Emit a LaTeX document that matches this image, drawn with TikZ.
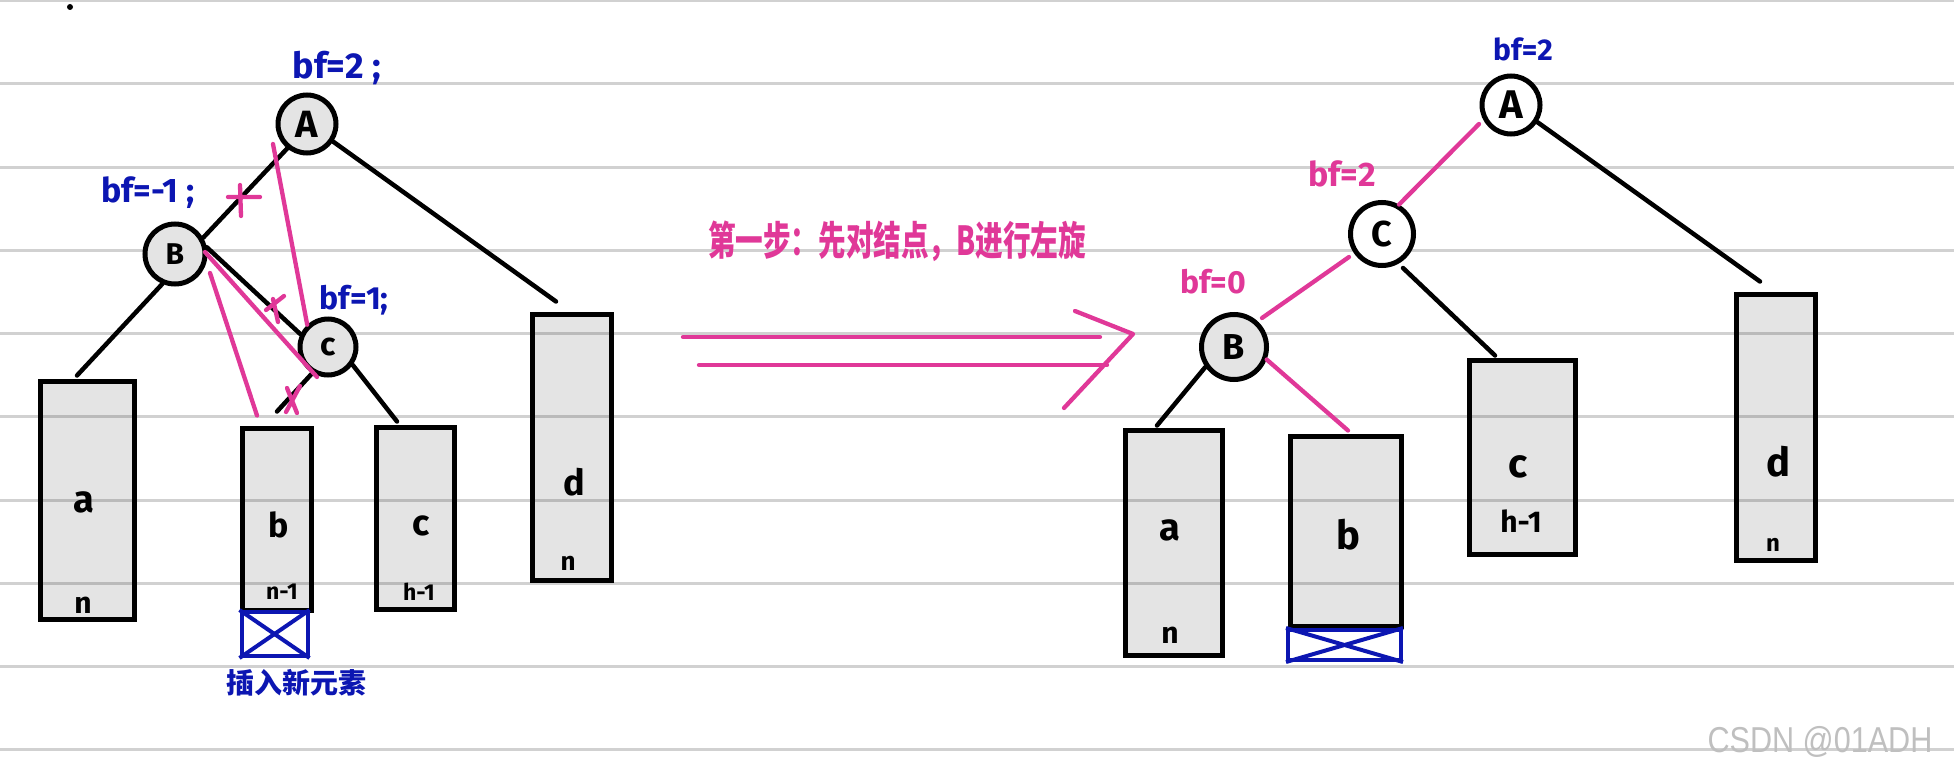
\documentclass[tikz,border=0pt]{standalone}
\usepackage{fontspec}
\setmainfont{Fira Sans}
\newfontfamily\cjk{Noto Sans CJK SC}
\newfontfamily\wmfont{Liberation Sans}
\usetikzlibrary{calc}
\definecolor{inkblue}{RGB}{12,22,178}
\definecolor{inkpink}{RGB}{224,56,152}
\definecolor{boxgray}{RGB}{228,228,228}
\tikzset{
  ruling/.style={draw=black, draw opacity=0.18, line width=3pt},
  bxn/.style={rectangle, draw=black, fill=boxgray, line width=5pt, inner sep=0pt},
  newbox/.style={rectangle, draw=inkblue, line width=4pt, inner sep=0pt, fill=white},
  circn/.style={circle, draw=black, line width=5pt, inner sep=0pt},
  blk/.style={draw=black, line width=4.5pt, line cap=round},
  pk/.style={draw=inkpink, line width=4.3pt, line cap=round},
  xmark/.style={draw=inkblue, line width=4pt},
  fs/.style={inner sep=0pt, font={\bfseries\fontsize{#1pt}{#1pt}\selectfont}},
}
\begin{document}
\begin{tikzpicture}[x=1pt,y=-1pt]
\useasboundingbox (0,0) rectangle (1954,776);
\fill[white] (0,0) rectangle (1954,776);

% ---- boxes (left)
\node[bxn, minimum width=94pt, minimum height=238pt] (la) at (87,500) {};
\node[bxn, minimum width=69pt, minimum height=182pt] (lb) at (276.5,519) {};
\node[bxn, minimum width=78pt, minimum height=182pt] (lc) at (415,518) {};
\node[bxn, minimum width=79pt, minimum height=266pt] (ld) at (571.5,447) {};
\node[newbox, minimum width=66pt, minimum height=44pt] (lnew) at (274.5,634) {};
\draw[xmark] (lnew.north west) -- (lnew.south east) (lnew.south west) -- (lnew.north east);
% ---- boxes (right)
\node[bxn, minimum width=97pt, minimum height=225pt] (ra) at (1173.5,542.5) {};
\node[bxn, minimum width=111pt, minimum height=190pt] (rb) at (1345.5,531) {};
\node[newbox, minimum width=113pt, minimum height=30pt] (rnew) at (1344.5,645) {};
\draw[xmark] (rnew.north west) -- (rnew.south east) (rnew.south west) -- (rnew.north east);
\node[bxn, minimum width=106pt, minimum height=194pt] (rc) at (1522,457) {};
\node[bxn, minimum width=79pt, minimum height=266pt] (rd) at (1775.5,427) {};

% ---- ruled paper lines
\foreach \k in {0,...,9}
  \draw[ruling] (0,{0.5+83.25*\k}) -- (1954,{0.5+83.25*\k});

% ---- dot
\fill[black] (70,7) circle (3pt);

% ---- left tree nodes
\node[circn, fill=boxgray, minimum size=58pt, fs=38] (lA) at (307,124) {A};
\node[circn, fill=boxgray, minimum size=60pt, fs=30] (lB) at (175,254) {B};
\node[circn, fill=boxgray, minimum size=56pt, fs=32] (lC) at (328,347) {c};

% left black connectors
\draw[blk] (lA.231) -- (lB.30);
\draw[blk] (lA.-34) -- ([xshift=-15.5pt,yshift=10pt]ld.north);
\draw[blk] (lB.12) -- (lC.155);
\draw[blk] (lB.247) -- ([xshift=-10pt,yshift=3pt]la.north);
\draw[blk] (lC.239) -- ([xshift=0.5pt,yshift=14pt]lb.north);
\draw[blk] (lC.-36) -- ([xshift=-18pt,yshift=3pt]lc.north);

% left pink lines
\draw[pk] ($(lA)+(-34,20)$) -- (lC.133);
\draw[pk] ($(lB)+(30,-2)$) -- ($(lC)+(-11,30)$);
\draw[pk] ($(lB)+(35,19)$) -- ([xshift=-19.5pt,yshift=10pt]lb.north);
% pink crosses
\draw[pk] (228,197) -- (260,197) (240,185) -- (241,216);
\draw[pk] (266,310) -- (284,296) (273,299) -- (278,322);
\draw[pk] (287,388) -- (297,413) (286,412) -- (300,386);

% left labels
\node[fs=36, text=inkblue] (lbfA) at (337,68) {bf=2 ;};
\node[fs=34, text=inkblue] (lbfB) at (148,193) {bf=-1 ;};
\node[fs=32, text=inkblue] (lbfC) at (354,300) {bf=1;};
\node[fs=38] (lta) at (84,502) {a};
\node[fs=30] (ltan) at (83,605) {n};
\node[fs=34] (ltb) at (279,525) {b};
\node[fs=23] (ltbn) at (282,592) {n-1};
\node[fs=36] (ltc) at (421,526) {c};
\node[fs=23] (ltch) at (419,592) {h-1};
\node[fs=36] (ltd) at (574,482) {d};
\node[fs=26] (ltdn) at (568,563) {n};
\node[inner sep=0pt, text=inkblue, font={\cjk\bfseries\fontsize{28pt}{28pt}\selectfont}] (ins) at (296,683) {插入新元素};

% ---- middle step text and double arrow
\node[inner sep=0pt, text=inkpink, font={\cjk\bfseries\fontsize{40pt}{40pt}\selectfont}] (step) at (897,241) {\scalebox{0.69}[1]{第一步：先对结点，B进行左旋}};
\coordinate (ar1s) at (683,337);
\coordinate (ar1e) at (1100,337);
\coordinate (ar2s) at (699,365);
\coordinate (ar2e) at (1107,365);
\coordinate (ah1) at (1075,311);
\coordinate (ah2) at (1133,334);
\coordinate (ah3) at (1064,408);
\draw[pk] (ar1s) -- (ar1e);
\draw[pk] (ar2s) -- (ar2e);
\draw[pk, line join=round] (ah1) -- (ah2) -- (ah3);

% ---- right tree nodes
\node[circn, fill=white, minimum size=58pt, fs=40] (rA) at (1511,105) {A};
\node[circn, fill=white, minimum size=63pt, fs=36] (rC) at (1382,234) {C};
\node[circn, fill=boxgray, minimum size=65pt, fs=36] (rB) at (1234,347) {B};

\draw[pk] ($(rA)+(-32,19)$) -- (rC.60);
\draw[pk] ($(rC)+(-33,23)$) -- ($(rB)+(28,-29)$);
\draw[blk] (rA.-33) -- ([xshift=-15.5pt,yshift=10pt]rd.north);
\draw[blk] ($(rC)+(21,34)$) -- ([xshift=-27pt,yshift=2pt]rc.north);
\draw[blk] (rB.215) -- ([xshift=-16.5pt,yshift=2pt]ra.north);
\draw[pk] (rB.-21) -- ([xshift=2.5pt,yshift=3pt]rb.north);

% right labels
\node[fs=30, text=inkblue] (rbfA) at (1523,49) {bf=2};
\node[fs=34, text=inkpink] (rbfC) at (1342,174) {bf=2};
\node[fs=32, text=inkpink] (rbfB) at (1213,282) {bf=0};
\node[fs=38] (rta) at (1170,530) {a};
\node[fs=30] (rtan) at (1170,635) {n};
\node[fs=40] (rtb) at (1348,535) {b};
\node[fs=40] (rtc) at (1518,467) {c};
\node[fs=30] (rtch) at (1521,521) {h-1};
\node[fs=40] (rtd) at (1778,462) {d};
\node[fs=24] (rtdn) at (1773,545) {n};

% watermark
\node[inner sep=0pt, text=black!25, font={\wmfont\fontsize{36pt}{36pt}\selectfont}] (wm) at (1820,742) {\scalebox{0.85}[1]{CSDN @01ADH}};
\end{tikzpicture}
\end{document}
